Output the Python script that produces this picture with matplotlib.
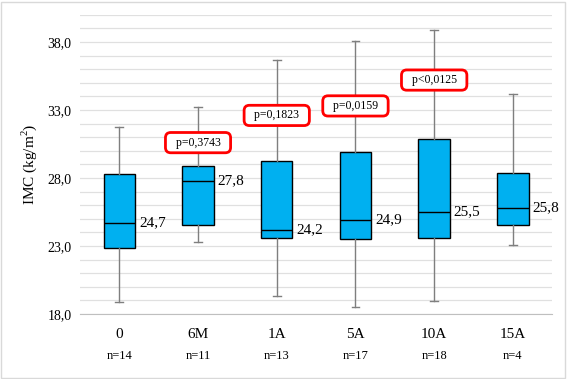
import matplotlib
matplotlib.use("Agg")
import matplotlib.pyplot as plt
from matplotlib.patches import Rectangle

plt.rcParams["font.family"] = ["Liberation Serif", "DejaVu Serif"]
plt.rcParams["mathtext.fontset"] = "custom"
plt.rcParams["mathtext.rm"] = "Liberation Serif"

# Data
groups = ["0", "6M", "1A", "5A", "10A", "15A"]
counts = [14, 11, 13, 17, 18, 4]
whisker_low = [18.86, 23.27, 19.32, 18.51, 18.93, 23.05]
q1 = [22.85, 24.52, 23.57, 23.49, 23.57, 24.52]
medians = [24.7, 27.8, 24.2, 24.9, 25.5, 25.8]
q3 = [28.27, 28.86, 29.23, 29.93, 30.84, 28.34]
whisker_high = [31.73, 33.2, 36.65, 38.05, 38.86, 34.2]

p_labels = ["p=0,3743", "p=0,1823", "p=0,0159", "p<0,0125"]
p_groups = [1, 2, 3, 4]
p_heights = [30.6, 32.6, 33.3, 35.2]

fig = plt.figure(figsize=(5.67, 3.79), dpi=100)
ax = fig.add_axes([0.141, 0.1715, 0.833, 0.7895])

stats = []
for i, g in enumerate(groups):
    stats.append({
        "label": g,
        "whislo": whisker_low[i],
        "q1": q1[i],
        "med": medians[i],
        "q3": q3[i],
        "whishi": whisker_high[i],
        "fliers": [],
    })

ax.bxp(
    stats,
    positions=range(len(groups)),
    widths=0.4,
    patch_artist=True,
    showfliers=False,
    boxprops=dict(facecolor="#00B0F0", edgecolor="black", linewidth=1.0),
    medianprops=dict(color="black", linewidth=1.0),
    whiskerprops=dict(color="#7f7f7f", linewidth=1.0),
    capprops=dict(color="#7f7f7f", linewidth=1.0),
    capwidths=0.1,
    zorder=3,
)

# median labels
for i, m in enumerate(medians):
    ax.text(i + 0.25, m, f"{m:.1f}".replace(".", ","), fontsize=11,
            va="center", ha="left", zorder=4)

# p-value boxes
for lab, g, h in zip(p_labels, p_groups, p_heights):
    ax.text(g, h, "  " + lab + "  ", fontsize=8.5, ha="center", va="center",
            zorder=5,
            bbox=dict(boxstyle="round,pad=0.35,rounding_size=0.45",
                      fc="white", ec="#ff0000", lw=2))

ax.set_xlim(-0.5, len(groups) - 0.5)
ax.set_ylim(18, 40)
ax.set_yticks([18, 23, 28, 33, 38])
ax.set_yticklabels([f"{v:.1f}".replace(".", ",") for v in [18, 23, 28, 33, 38]],
                   fontsize=10)
ax.set_yticks(range(18, 41), minor=True)
ax.grid(axis="y", which="both", color="#e0e0e0", linewidth=0.9, zorder=0)
ax.set_axisbelow(True)
ax.tick_params(axis="y", which="both", length=0, pad=6)
ax.tick_params(axis="x", length=0, pad=10)
ax.set_xticks(range(len(groups)))
ax.set_xticklabels(groups, fontsize=11)

for s in ["top", "right", "left"]:
    ax.spines[s].set_visible(False)
ax.spines["bottom"].set_color("#bfbfbf")

for i, n in enumerate(counts):
    ax.annotate(f"n={n}", xy=(i, 0), xycoords=("data", "axes fraction"),
                xytext=(0, -30), textcoords="offset points",
                ha="center", va="center", fontsize=9)

ax.set_ylabel("IMC (kg/m$^2$)", fontsize=11, labelpad=6)

fig.patches.append(Rectangle((0.002, 0.003), 0.995, 0.993, transform=fig.transFigure,
                             fill=False, edgecolor="#d9d9d9", linewidth=1))

fig.savefig("out.png", dpi=100)
